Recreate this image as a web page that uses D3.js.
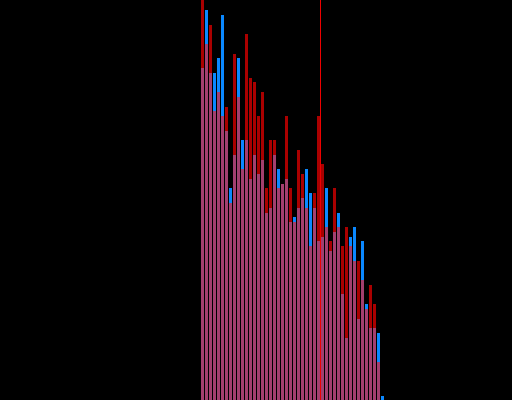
<!DOCTYPE html>
<html>
<head>
<meta charset="utf-8">
<script src="https://cdn.jsdelivr.net/npm/d3@7"></script>
<style>
html,body{margin:0;padding:0;background:#000;overflow:hidden;}
svg{display:block;}
</style>
</head>
<body>
<script>
// Category indices
const categories = d3.range(46).map(i => "c" + i);
// Series values (height units)
const seriesBlue = [332,390,327,327,342,385,269,212,245,342,260,260,221,245,226,240,187,192,245,231,216,221,178,183,192,202,231,207,192,159,163,212,149,168,187,106,62,163,173,81,159,96,72,72,67,4];
const seriesRed  = [400,356,375,289,308,284,293,197,346,303,231,366,322,318,284,308,212,260,260,212,216,284,212,178,250,226,192,154,207,284,236,173,159,212,173,154,173,154,139,139,120,91,115,96,38,0];
const markerIndex = 29; // reference line after this category

const W = 512, H = 400;
const svg = d3.select("body").append("svg").attr("width", W).attr("height", H);
svg.append("rect").attr("width", W).attr("height", H).attr("fill", "#000");

const x = d3.scaleBand().domain(categories).range([201, 384]).paddingInner(0.25).paddingOuter(0);
const y = d3.scaleLinear().domain([0, 400]).range([H, 0]);

const data = categories.map((c, i) => ({c, b: seriesBlue[i], r: seriesRed[i]}));

const g = svg.append("g");
g.selectAll(".blue").data(data).join("rect")
  .attr("x", d => x(d.c)).attr("width", x.bandwidth())
  .attr("y", d => y(d.b)).attr("height", d => H - y(d.b))
  .attr("fill", "#0a88ff");
g.selectAll(".red").data(data).join("rect")
  .attr("x", d => x(d.c)).attr("width", x.bandwidth())
  .attr("y", d => y(d.r)).attr("height", d => H - y(d.r))
  .attr("fill", "#aa0000");
g.selectAll(".both").data(data).join("rect")
  .attr("x", d => x(d.c)).attr("width", x.bandwidth())
  .attr("y", d => y(Math.min(d.b, d.r))).attr("height", d => H - y(Math.min(d.b, d.r)))
  .attr("fill", "#a33f6f");

svg.append("rect")
  .attr("x", x(categories[markerIndex]) + x.bandwidth()).attr("width", 1)
  .attr("y", 0).attr("height", H)
  .attr("fill", "#ee0000");
</script>
</body>
</html>
